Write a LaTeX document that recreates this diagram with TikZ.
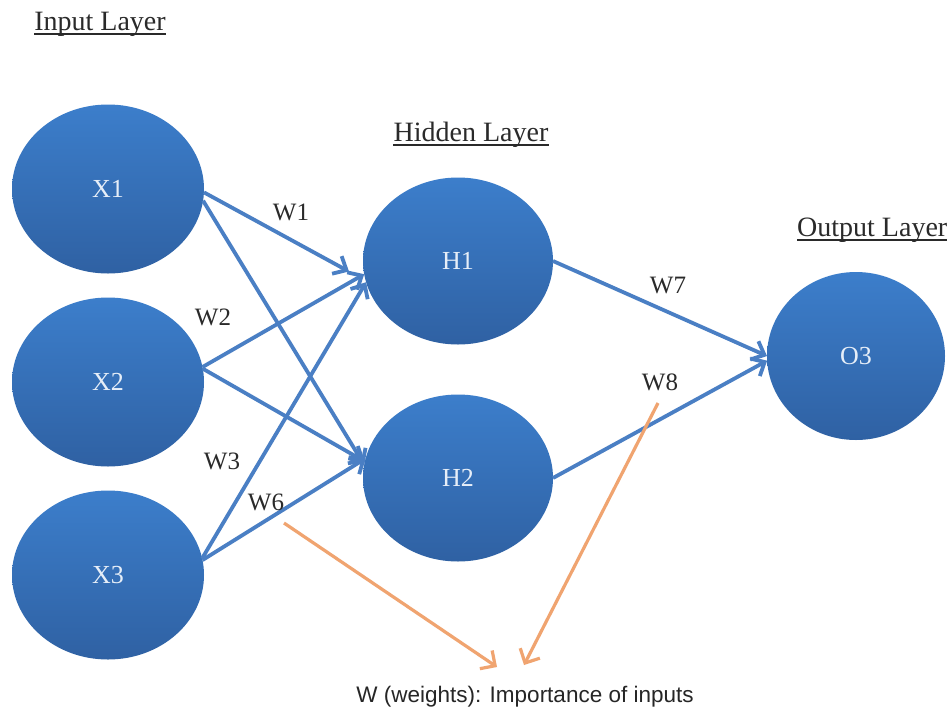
\documentclass[tikz,border=0pt]{standalone}
\usepackage{fontspec}
\setmainfont{Liberation Serif}
\newfontfamily\capfont{Liberation Sans}
\usetikzlibrary{shapes.geometric,arrows.meta,calc}
\definecolor{nodetop}{HTML}{3C7ECB}
\definecolor{nodebot}{HTML}{2F61A3}
\definecolor{edgeblue}{HTML}{4A7FC4}
\definecolor{orangeline}{HTML}{F0A470}
\definecolor{labelgray}{HTML}{2A2A2A}
\definecolor{nodetext}{HTML}{E6EEF8}
\begin{document}
\begin{tikzpicture}[x=1pt,y=-1pt,
  neuron/.style={ellipse, draw=none, inner sep=0pt, outer sep=0pt,
    top color=nodetop, bottom color=nodebot,
    font=\fontsize{26}{26}\selectfont, text=nodetext},
  xnode/.style={neuron, minimum width=192pt, minimum height=169pt},
  hnode/.style={neuron, minimum width=190pt, minimum height=167pt},
  onode/.style={neuron, minimum width=178pt, minimum height=168pt},
  edge/.style={draw=edgeblue, line width=3.8pt, -{Straight Barb[length=11pt,width=20pt]}},
  oarrow/.style={draw=orangeline, line width=3.2pt, -{Straight Barb[length=11pt,width=22pt]}},
  wlabel/.style={font=\fontsize{25}{25}\selectfont, text=labelgray, inner sep=0pt},
  heading/.style={font=\fontsize{28}{28}\selectfont, text=labelgray, inner sep=0pt, anchor=base},
  uline/.style={draw=labelgray, line width=1.5pt}
]
\fill[white] (0,0) rectangle (948,713);
\useasboundingbox (0,0) rectangle (948,713);

% headings
\node[heading] (hin) at (100,30) {Input Layer};
\node[heading] (hhid) at (471,141) {Hidden Layer};
\node[heading, anchor=base west] (hout) at (797,236) {Output Layer};
\foreach \h in {hin,hhid,hout}
  \draw[uline] ([yshift=-4pt]\h.base west) -- ([yshift=-4pt]\h.base east);

% neurons
\node[xnode] (X1) at (108,189) {X1};
\node[xnode] (X2) at (108,382) {X2};
\node[xnode] (X3) at (108,575) {X3};
\node[hnode] (H1) at (458,261) {H1};
\node[hnode] (H2) at (458,478) {H2};
\node[onode] (O3) at (856,356) {O3};

% connectors input -> hidden
\draw[edge, shorten >=19pt] (X1.-2) -- (H1.192);
\draw[edge] (X1.-7) -- (H2.172);
\draw[edge] (X2.9) -- (H1.188);
\draw[edge] (X2.8) -- (H2.170);
\draw[edge] (X3.10) -- (H1.193);
\draw[edge] (X3.9) -- (H2.168);
% hidden -> output
\draw[edge] (H1.east) -- (O3.west);
\draw[edge] (H2.east) -- (O3.183);

% weight labels
\node[wlabel] (w1) at (291,212) {W1};
\node[wlabel] (w2) at (213,317) {W2};
\node[wlabel] (w3) at (222,461) {W3};
\node[wlabel] (w6) at (266,502) {W6};
\node[wlabel] (w7) at (668,285) {W7};
\node[wlabel] (w8) at (660,382) {W8};

% caption and orange pointers
\node[font=\capfont\fontsize{22.5}{22.5}\selectfont, text=black!85] (cap) at (525,697) {W (weights): Importance of inputs};
\coordinate (o1s) at (284,523);
\coordinate (o1e) at (497,667);
\coordinate (o2s) at (658,403);
\coordinate (o2e) at (524,665);
\draw[oarrow] (o1s) -- (o1e);
\draw[oarrow] (o2s) -- (o2e);
\end{tikzpicture}
\end{document}
